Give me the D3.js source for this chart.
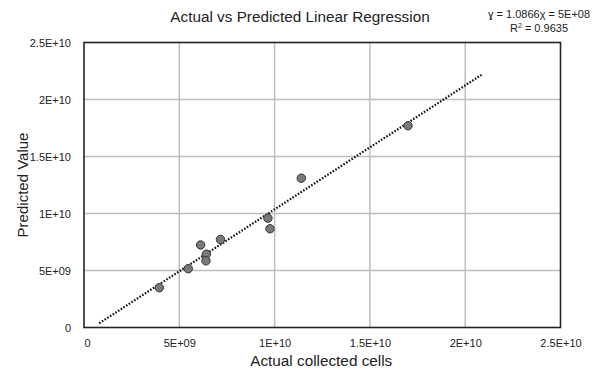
<!DOCTYPE html>
<html>
<head>
<meta charset="utf-8">
<script src="https://cdn.jsdelivr.net/npm/d3@7"></script>
<style>
  html, body { margin: 0; padding: 0; background: #fff; }
  svg text { font-family: "Liberation Sans", Arial, Helvetica, sans-serif; fill: #222; }
</style>
</head>
<body>
<svg id="chart" width="602" height="374"></svg>
<script>
// actual vs predicted values
const actual    = [3.95e9, 5.47e9, 6.12e9, 6.42e9, 6.40e9, 7.16e9, 9.65e9, 9.76e9, 11.4e9, 17.0e9];
const predicted = [3.49e9, 5.16e9, 7.24e9, 6.43e9, 5.85e9, 7.72e9, 9.59e9, 8.66e9, 13.1e9, 17.7e9];
const tickValues = [0, 5e9, 1e10, 1.5e10, 2e10, 2.5e10];
const tickLabels = ["0", "5E+09", "1E+10", "1.5E+10", "2E+10", "2.5E+10"];
const slope = 1.0866, intercept = -5e8;
const trendX = [0.8e9, 2.09e10];

const margin = { top: 42.5, right: 41.5, bottom: 46.5, left: 84 };
const W = 602, H = 374;
const width = W - margin.left - margin.right,
      height = H - margin.top - margin.bottom;

const svg = d3.select("#chart");
const g = svg.append("g").attr("transform", "translate(" + margin.left + "," + margin.top + ")");

const x = d3.scaleLinear().domain([0, 2.5e10]).range([0, width]);
const y = d3.scaleLinear().domain([0, 2.5e10]).range([height, 0]);

// grid
g.append("g").selectAll("line").data(tickValues.slice(1, -1)).enter().append("line")
  .attr("x1", d => x(d)).attr("x2", d => x(d))
  .attr("y1", 0).attr("y2", height)
  .attr("stroke", "#bdbdbd").attr("stroke-width", 1.5);
g.append("g").selectAll("line").data(tickValues.slice(1, -1)).enter().append("line")
  .attr("y1", d => y(d)).attr("y2", d => y(d))
  .attr("x1", 0).attr("x2", width)
  .attr("stroke", "#bdbdbd").attr("stroke-width", 1.5);

// axes (labels only)
const fmt = d => tickLabels[tickValues.indexOf(d)];
const xAxis = g.append("g").attr("transform", "translate(0," + height + ")")
  .call(d3.axisBottom(x).tickValues(tickValues).tickFormat(fmt).tickSize(0).tickPadding(12));
const yAxis = g.append("g")
  .call(d3.axisLeft(y).tickValues(tickValues).tickFormat(fmt).tickSize(0).tickPadding(13));
[xAxis, yAxis].forEach(a => {
  a.select(".domain").remove();
  a.selectAll("text").style("font-size", "11px").style("font-family", "Liberation Sans, Arial, sans-serif").attr("fill", "#222");
});
xAxis.selectAll("text").attr("dx", (d, i) => i === 0 ? 3 : 0);

// frame
g.append("rect").attr("x", 0).attr("y", 0).attr("width", width).attr("height", height)
  .attr("fill", "none").attr("stroke", "#222").attr("stroke-width", 1.6);

// trendline
g.append("line")
  .attr("x1", x(trendX[0])).attr("y1", y(slope * trendX[0] + intercept))
  .attr("x2", x(trendX[1])).attr("y2", y(slope * trendX[1] + intercept))
  .attr("stroke", "#111").attr("stroke-width", 2.2).attr("stroke-dasharray", "1.6,1.6");

// points
g.selectAll("circle").data(actual).enter().append("circle")
  .attr("cx", (d, i) => x(d)).attr("cy", (d, i) => y(predicted[i]))
  .attr("r", 4.2).attr("fill", "#7a7a7a").attr("stroke", "#333").attr("stroke-width", 1);

// title
svg.append("text").attr("x", 300).attr("y", 22).attr("text-anchor", "middle")
  .style("font-size", "15.3px").text("Actual vs Predicted Linear Regression");

// equation
svg.append("text").attr("x", 539).attr("y", 18).attr("text-anchor", "middle")
  .style("font-size", "11px").text("ɣ = 1.0866χ = 5E+08");
const r2 = svg.append("text").attr("x", 539).attr("y", 32).attr("text-anchor", "middle")
  .style("font-size", "11px");
r2.append("tspan").text("R");
r2.append("tspan").attr("dy", -4).style("font-size", "7px").text("2");
r2.append("tspan").attr("dy", 4).text(" = 0.9635");

// axis labels
svg.append("text").attr("x", margin.left + width / 2 - 1).attr("y", 366).attr("text-anchor", "middle")
  .style("font-size", "15.3px").text("Actual collected cells");
svg.append("text").attr("transform", "translate(28," + (margin.top + height / 2) + ") rotate(-90)")
  .attr("text-anchor", "middle").style("font-size", "15px").text("Predicted Value");
</script>
</body>
</html>
